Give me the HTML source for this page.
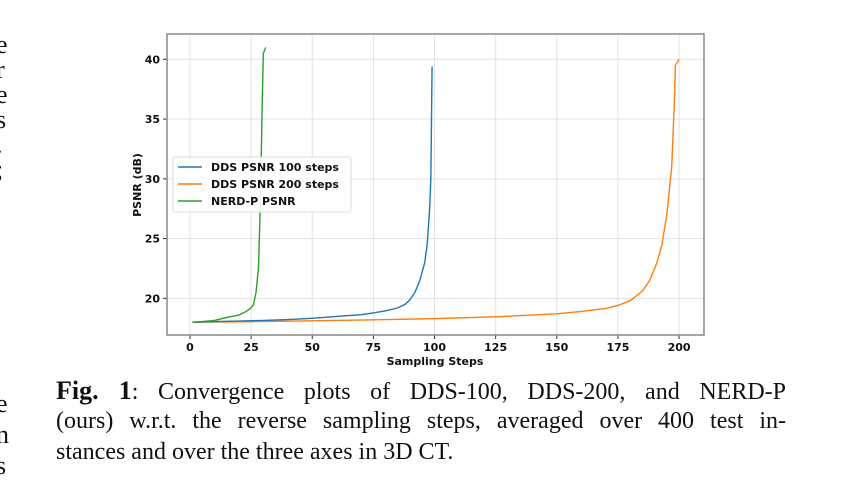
<!DOCTYPE html>
<html><head><meta charset="utf-8"><style>
body{margin:0;width:846px;height:502px;background:#fff;overflow:hidden;position:relative;font-family:"Liberation Serif",serif}
.cap{position:absolute;left:56px;width:730px;font-size:24px;line-height:29px;text-align:justify;text-align-last:justify;color:#111}
.side{position:absolute;left:-4px;font-size:26px;color:#111}
</style></head><body>
<div class="side" style="top:32px;line-height:25px">e<br>r<br>e<br>s<br>.<br>;</div>
<div class="side" style="top:388px;line-height:31px">e<br>n<br>s</div>
<svg id="chart" width="846" height="370" style="position:absolute;left:0;top:0"></svg>
<div class="cap" style="top:376px"><b style="font-size:26px">Fig. 1</b>: Convergence plots of DDS-100, DDS-200, and NERD-P</div>
<div class="cap" style="top:407px">(ours) w.r.t. the reverse sampling steps, averaged over 400 test in-</div>
<div class="cap" style="top:438px;text-align-last:left">stances and over the three axes in 3D CT.</div>
<script>
const xTicks=[0,25,50,75,100,125,150,175,200];
const yTicks=[20,25,30,35,40];
const blueX=[1,10,20,30,40,50,60,70,75,80,85,88,90,92,94,96,97,98,98.5,99];
const blueY=[18.0,18.05,18.1,18.15,18.22,18.33,18.48,18.63,18.78,18.95,19.2,19.5,19.9,20.5,21.5,23.0,24.5,27.5,30,39.4];
const orangeX=[1,25,50,75,100,125,150,160,170,175,180,185,188,191,193,195,196,197,198,198.5,200];
const orangeY=[18.0,18.05,18.12,18.2,18.3,18.45,18.7,18.9,19.15,19.4,19.8,20.6,21.5,23,24.5,27,29,31,36,39.5,40.0];
const greenX=[1,5,10,15,20,23,25,26,27,28,28.5,29,29.5,30,31];
const greenY=[18.0,18.05,18.15,18.4,18.6,18.9,19.2,19.5,20.5,22.5,26,30,36,40.5,41.0];
const NS="http://www.w3.org/2000/svg";
const svg=document.getElementById('chart');
const L=167,R=704,T=34,B=335;
const xmin=-9.4,xmax=210.2,ymin=16.93,ymax=42.12;
const sx=v=>L+(v-xmin)/(xmax-xmin)*(R-L);
const sy=v=>B-(v-ymin)/(ymax-ymin)*(B-T);
function el(t,a){const e=document.createElementNS(NS,t);for(const k in a)e.setAttribute(k,a[k]);svg.appendChild(e);return e;}
const font='"DejaVu Sans","Liberation Sans",sans-serif';
xTicks.forEach(v=>{
 const g=el('line',{x1:sx(v),x2:sx(v),y1:T,y2:B,stroke:'#e3e3e3','stroke-width':1});
 
 
 const tk=el('line',{x1:sx(v),x2:sx(v),y1:B,y2:B+4,stroke:'#333'});
 
 
 const t=el('text',{x:sx(v),y:B+16,'text-anchor':'middle','font-family':font,'font-weight':'bold','font-size':11,fill:'#111'});
 t.textContent=v;
 
 
});
yTicks.forEach(v=>{
 const g=el('line',{x1:L,x2:R,y1:sy(v),y2:sy(v),stroke:'#e3e3e3','stroke-width':1});
 
 
 const tk=el('line',{x1:L-4,x2:L,y1:sy(v),y2:sy(v),stroke:'#333'});
 
 
 const t=el('text',{x:L-7,y:sy(v)+4,'text-anchor':'end','font-family':font,'font-weight':'bold','font-size':11,fill:'#111'});
 t.textContent=v;
 
 
});
function series(xs,ys,c,name){
 const p=el('polyline',{points:xs.map((x,i)=>sx(x)+','+sy(ys[i])).join(' '),fill:'none',stroke:c,'stroke-width':1.4});
 
 
}
series(orangeX,orangeY,'#ff7f0e','dds-200-line');
series(blueX,blueY,'#1f77b4','dds-100-line');
series(greenX,greenY,'#2ca02c','nerd-p-line');
const fr=el('rect',{x:L,y:T,width:R-L,height:B-T,fill:'none',stroke:'#888','stroke-width':1.5});


const xl=el('text',{x:435,y:365,'text-anchor':'middle','font-family':font,'font-weight':'bold','font-size':11,fill:'#111'});
xl.textContent='Sampling Steps';


const yl=el('text',{x:0,y:0,transform:'translate(141,185) rotate(-90)','text-anchor':'middle','font-family':font,'font-weight':'bold','font-size':11,fill:'#111'});
yl.textContent='PSNR (dB)';


const lg=el('rect',{x:173,y:157,width:178,height:55,rx:2,fill:'#fff','fill-opacity':0.85,stroke:'#ddd'});


[['DDS PSNR 100 steps','#1f77b4',167],['DDS PSNR 200 steps','#ff7f0e',184],['NERD-P PSNR','#2ca02c',201]].forEach(d=>{
 const ln=el('line',{x1:178,x2:202,y1:d[2],y2:d[2],stroke:d[1],'stroke-width':1.5});
 
 
 const t=el('text',{x:211,y:d[2]+4,'font-family':font,'font-weight':'bold','font-size':11,fill:'#111'});
 t.textContent=d[0];
 
 
});
</script>
</body></html>
